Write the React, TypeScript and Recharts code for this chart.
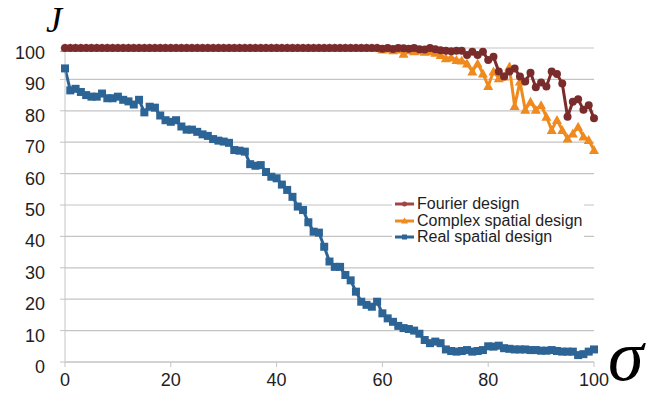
import React from 'react';
import { LineChart, Line, XAxis, YAxis, CartesianGrid, Legend } from 'recharts';

const SIGMA = [
  0, 1, 2, 3, 4, 5, 6, 7, 8, 9, 10, 11, 12, 13, 14, 15, 16, 17, 18, 19,
  20, 21, 22, 23, 24, 25, 26, 27, 28, 29, 30, 31, 32, 33, 34, 35, 36, 37, 38, 39,
  40, 41, 42, 43, 44, 45, 46, 47, 48, 49, 50, 51, 52, 53, 54, 55, 56, 57, 58, 59,
  60, 61, 62, 63, 64, 65, 66, 67, 68, 69, 70, 71, 72, 73, 74, 75, 76, 77, 78, 79,
  80, 81, 82, 83, 84, 85, 86, 87, 88, 89, 90, 91, 92, 93, 94, 95, 96, 97, 98, 99, 100,
];

const FOURIER = [
  100, 100, 100, 100, 100, 100, 100, 100, 100, 100, 100, 100, 100, 100, 100, 100, 100, 100, 100, 100,
  100, 100, 100, 100, 100, 100, 100, 100, 100, 100, 100, 100, 100, 100, 100, 100, 100, 100, 100, 100,
  100, 100, 100, 100, 100, 100, 100, 100, 100, 100, 100, 100, 100, 100, 100, 100, 100, 100, 100, 100,
  99.8, 100, 99.7, 100, 99.9, 99.8, 100, 99.6, 99.5, 100, 99.6, 99.3, 99.1, 99, 99.1, 99.1, 97.8, 98.8, 97.8, 98.8,
  96.2, 97.2, 92.5, 90.9, 92.5, 93.5, 90.9, 89.3, 92.1, 87.5, 89, 87.7, 92.5, 91.7, 88.7, 78.1, 82.9, 83.7, 80.3, 81.8, 77.6,
];

const COMPLEX = [
  100, 100, 100, 100, 100, 100, 100, 100, 100, 100, 100, 100, 100, 100, 100, 100, 100, 100, 100, 100,
  100, 100, 100, 100, 100, 100, 100, 100, 100, 100, 100, 100, 100, 100, 100, 100, 100, 100, 100, 100,
  100, 100, 100, 100, 100, 100, 100, 100, 100, 100, 100, 100, 100, 100, 100, 100, 100, 100, 100, 100,
  99.5, 99.8, 99.3, 99.5, 98.2, 99.3, 99, 99.2, 98.8, 99, 98.5, 97.8, 96.7, 97, 96.2, 96, 95.1, 92.5, 95.1, 91.9,
  87.9, 92.5, 90.4, 90.9, 94, 81.5, 89.3, 80.3, 82.9, 80.3, 81.8, 78.1, 73.9, 77.1, 73.9, 71.2, 72.8, 74.9, 71.8, 70.7, 67.5,
];

const REAL = [
  93.5, 86.5, 87, 86, 85, 84.5, 84.5, 85.5, 84, 84, 84.5, 83.5, 83, 82, 83.5, 79.5, 81.3, 81, 78.5, 77,
  76.5, 77, 75, 74, 74, 73.3, 72.5, 72, 71, 70.5, 70.2, 69.8, 67.5, 67.3, 67, 63, 62.5, 62.7, 60.5, 59,
  58.5, 56.5, 54.8, 52.6, 49.5, 48.4, 44.5, 41.5, 41.2, 36.7, 32, 30.3, 30.3, 27.7, 26, 22.4, 19.2, 18.2, 17.6, 19.2,
  15.5, 13.9, 12.8, 11.5, 10.8, 10.5, 10, 9, 7, 6, 6.5, 6, 4, 3.5, 3.3, 3.5, 3.8, 3.3, 3.5, 3.8,
  5, 4.9, 5.2, 4.4, 4.2, 4, 4, 4, 3.8, 3.8, 3.6, 3.6, 3.8, 3.5, 3.3, 3.3, 3.3, 2.2, 2.5, 3.3, 4,
];

const X_TICKS = [0, 20, 40, 60, 80, 100];
const Y_TICKS = [0, 10, 20, 30, 40, 50, 60, 70, 80, 90, 100];

const SERIES_NAMES = ['Fourier design', 'Complex spatial design', 'Real spatial design'];

const RED = '#7a2b2b';
const RED_LEGEND = '#a04545';
const ORANGE = '#ef8a1e';
const BLUE = '#2c6496';
const GRID = '#c4c4c4';
const TEXT = '#1e1e1e';

const data = SIGMA.map((s, i) => ({
  sigma: s,
  fourier: FOURIER[i],
  complex: COMPLEX[i],
  real: REAL[i],
}));

const squareDot = (props: any) => {
  const { cx, cy, index } = props;
  return <rect key={`sq${index}`} x={cx - 4} y={cy - 4} width={8} height={8} fill={BLUE} />;
};

const triangleDot = (props: any) => {
  const { cx, cy, index } = props;
  return (
    <polygon
      key={`tr${index}`}
      points={`${cx},${cy - 5} ${cx + 5},${cy + 4} ${cx - 5},${cy + 4}`}
      fill={ORANGE}
    />
  );
};

const circleDot = (props: any) => {
  const { cx, cy, index } = props;
  return <circle key={`ci${index}`} cx={cx} cy={cy} r={4} fill={RED} />;
};

const YTick = (props: any) => {
  const { x, y, payload } = props;
  return (
    <text x={x} y={y + 5} textAnchor="end" dominantBaseline="central" fontSize={18}
      fontFamily="'Liberation Sans', Arial, sans-serif" fill={TEXT}>
      {payload.value}
    </text>
  );
};

const XTick = (props: any) => {
  const { x, y, payload } = props;
  return (
    <text x={x} y={y + 11} textAnchor="middle" dominantBaseline="central" fontSize={18}
      fontFamily="'Liberation Sans', Arial, sans-serif" fill={TEXT}>
      {payload.value}
    </text>
  );
};

const legendColors = [RED_LEGEND, ORANGE, BLUE];

const LegendContent = () => (
  <div style={{ background: '#fff', padding: '5px 0 6px 3px' }}>
    {SERIES_NAMES.map((name, i) => (
      <div key={name} style={{ display: 'flex', alignItems: 'center', height: 16.5 }}>
        <svg width={20} height={10} style={{ marginRight: 2 }}>
          <line x1={0} y1={5} x2={19} y2={5} stroke={legendColors[i]} strokeWidth={3} />
          {i === 0 && <circle cx={9.5} cy={5} r={2.5} fill={legendColors[i]} />}
          {i === 1 && <polygon points="9.5,1.5 13,7.5 6,7.5" fill={legendColors[i]} />}
          {i === 2 && <rect x={7} y={2.5} width={5} height={5} fill={legendColors[i]} />}
        </svg>
        <span style={{ fontSize: 16, fontFamily: "'Liberation Sans', Arial, sans-serif", color: TEXT, lineHeight: '16px' }}>
          {name}
        </span>
      </div>
    ))}
  </div>
);

export default function App() {
  return (
    <div style={{ position: 'absolute', left: 0, top: 0, width: 651, height: 401, background: '#fff' }}>
      <LineChart width={651} height={401} data={data} margin={{ top: 48, right: 57, bottom: 9, left: 5 }}>
        <CartesianGrid horizontal vertical={false} stroke={GRID} strokeWidth={1.2} />
        <XAxis
          dataKey="sigma"
          type="number"
          domain={[0, 100]}
          ticks={X_TICKS}
          height={30}
          stroke={GRID}
          tickSize={5}
          tickMargin={2}
          tick={<XTick />}
          interval={0}
        />
        <YAxis
          type="number"
          domain={[0, 100]}
          ticks={Y_TICKS}
          width={60}
          stroke={GRID}
          tickSize={5}
          tickMargin={15}
          tick={<YTick />}
          interval={0}
        />
        <Legend
          layout="vertical"
          align="center"
          verticalAlign="middle"
          content={<LegendContent />}
          wrapperStyle={{ position: 'absolute', left: 392, top: 191, width: 192 }}
        />
        <Line dataKey="real" name={SERIES_NAMES[2]} stroke={BLUE} strokeWidth={3} dot={squareDot}
          isAnimationActive={false} legendType="square" />
        <Line dataKey="complex" name={SERIES_NAMES[1]} stroke={ORANGE} strokeWidth={3} dot={triangleDot}
          isAnimationActive={false} legendType="triangle" />
        <Line dataKey="fourier" name={SERIES_NAMES[0]} stroke={RED} strokeWidth={3} dot={circleDot}
          isAnimationActive={false} legendType="circle" />
      </LineChart>
      <div style={{ position: 'absolute', left: 46, top: 0, fontFamily: "'Liberation Serif', 'DejaVu Serif', serif",
        fontStyle: 'italic', fontSize: 36, color: '#000', lineHeight: '40px' }}>J</div>
      <div style={{ position: 'absolute', left: 608, top: 316, fontFamily: "'Liberation Serif', 'DejaVu Serif', serif",
        fontStyle: 'italic', fontSize: 72, color: '#000', lineHeight: '80px' }}>σ</div>
    </div>
  );
}
